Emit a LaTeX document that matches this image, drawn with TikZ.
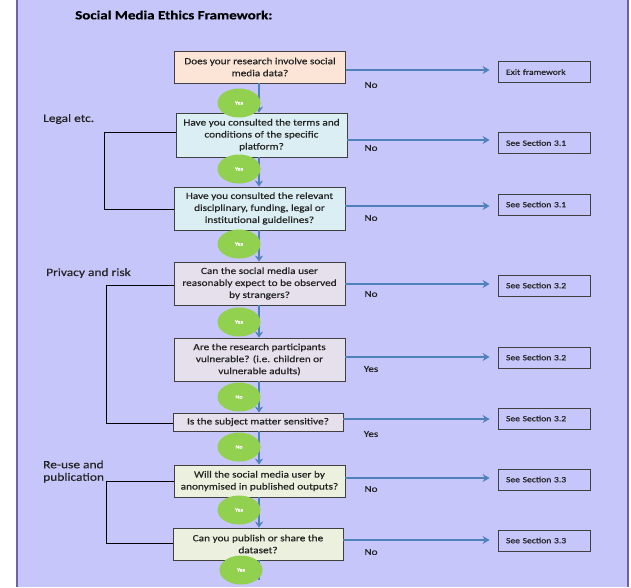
\documentclass[tikz,border=0pt]{standalone}
\usepackage{fontspec}
\setmainfont{Carlito}[FakeStretch=1.2, FakeBold=0.4]
\usetikzlibrary{arrows.meta,shapes.geometric}
\definecolor{bgcol}{RGB}{199,198,250}
\definecolor{bordercol}{RGB}{112,96,168}
\definecolor{boxline}{RGB}{64,64,64}
\definecolor{peach}{RGB}{252,229,214}
\definecolor{lblue}{RGB}{219,238,243}
\definecolor{lgray}{RGB}{229,224,236}
\definecolor{lgreen}{RGB}{235,241,222}
\definecolor{ansgreen}{RGB}{146,208,80}
\definecolor{arrblue}{RGB}{79,129,189}
\definecolor{txt}{RGB}{35,35,35}
\begin{document}
\begin{tikzpicture}[x=1pt,y=-1pt,
  q/.style={draw=boxline, line width=0.8pt, minimum width=171pt, align=center,
    font=\fontsize{9.4}{12}\selectfont, text=txt, inner sep=1pt},
  sec/.style={draw=boxline, line width=0.8pt, minimum width=92pt, minimum height=21pt,
    text width=76pt, inner xsep=8pt, inner ysep=0pt, align=left,
    font=\fontsize{8}{9}\selectfont, text=txt},
  ans/.style={ellipse, fill=ansgreen, minimum width=43pt, minimum height=29pt, inner sep=0pt,
    font=\fontsize{5}{5}\selectfont\bfseries, text=white},
  harr/.style={draw=arrblue, line width=2pt, -{Stealth[length=7pt,width=8pt]}, shorten >=8pt},
  varr/.style={draw=arrblue, line width=2pt, -{Stealth[length=6pt,width=8pt]}},
  lab/.style={font=\fontsize{9.2}{10}\selectfont, text=txt},
  grp/.style={font=\fontsize{11.2}{12.5}\selectfont, text=txt, align=left, inner sep=0pt},
  brk/.style={draw=black, line width=0.8pt}
]
\useasboundingbox (0,0) rectangle (631,587);
\fill[bgcol] (17,0) rectangle (628,587);
\draw[bordercol, line width=1.5pt] (17,0) -- (17,587) (628,0) -- (628,587);

\node[anchor=west, font=\fontsize{12.5}{14}\selectfont\bfseries, text=black, inner sep=0pt] (title) at (75,15) {Social Media Ethics Framework:};

% question boxes
\node[q, fill=peach, minimum height=32pt] (b1) at (260,67) {Does your research involve social\\media data?};
\node[q, fill=lblue, minimum height=44pt] (b2) at (261.5,135) {Have you consulted the terms and\\conditions of the specific\\platform?};
\node[q, fill=lblue, minimum height=43pt] (b3) at (259.5,208.5) {Have you consulted the relevant\\disciplinary, funding, legal or\\institutional guidelines?};
\node[q, fill=lgray, minimum height=43pt] (b4) at (259.5,283.5) {Can the social media user\\reasonably expect to be observed\\by strangers?};
\node[q, fill=lgray, minimum height=43pt] (b5) at (259.5,359.5) {Are the research participants\\vulnerable? (i.e. children or\\vulnerable adults)};
\node[q, fill=lgray, minimum height=18pt, minimum width=170pt] (b6) at (258,422) {Is the subject matter sensitive?};
\node[q, fill=lgreen, minimum height=32pt] (b7) at (259.5,481) {Will the social media user by\\anonymised in published outputs?};
\node[q, fill=lgreen, minimum height=32pt, minimum width=170pt] (b8) at (258,544) {Can you publish or share the\\dataset?};

% section boxes
\node[sec] (s1) at (544,72) {Exit framework};
\node[sec] (s2) at (544,143) {See Section 3.1};
\node[sec] (s3) at (544,204.5) {See Section 3.1};
\node[sec] (s4) at (544,285.5) {See Section 3.2};
\node[sec] (s5) at (544,357.5) {See Section 3.2};
\node[sec] (s6) at (544,418.5) {See Section 3.2};
\node[sec] (s7) at (544,479.5) {See Section 3.3};
\node[sec] (s8) at (544,540.5) {See Section 3.3};

% horizontal arrows
\coordinate (h1) at (0,70);
\coordinate (h2) at (0,140);
\coordinate (h3) at (0,206);
\coordinate (h4) at (0,284);
\coordinate (h5) at (0,357);
\coordinate (h6) at (0,419);
\coordinate (h7) at (0,478);
\coordinate (h8) at (0,540);
\draw[harr] (b1.east |- h1) -- (s1.west |- h1);
\draw[harr] (b2.east |- h2) -- (s2.west |- h2);
\draw[harr] (b3.east |- h3) -- (s3.west |- h3);
\draw[harr] (b4.east |- h4) -- (s4.west |- h4);
\draw[harr] (b5.east |- h5) -- (s5.west |- h5);
\draw[harr] (b6.east |- h6) -- (s6.west |- h6);
\draw[harr] (b7.east |- h7) -- (s7.west |- h7);
\draw[harr] (b8.east |- h8) -- (s8.west |- h8);

% answer labels
\node[lab] (l1) at (371,85) {No};
\node[lab] (l2) at (371,148) {No};
\node[lab] (l3) at (371,218) {No};
\node[lab] (l4) at (371,294) {No};
\node[lab] (l5) at (371,369) {Yes};
\node[lab] (l6) at (371,434) {Yes};
\node[lab] (l7) at (371,489) {No};
\node[lab] (l8) at (371,552) {No};

% vertical arrows
\coordinate (vx) at (259,0);
\coordinate (vend) at (259,580);
\draw[varr] (b1.south -| vx) -- (b2.north -| vx);
\draw[varr] (b2.south -| vx) -- (b3.north -| vx);
\draw[varr] (b3.south -| vx) -- (b4.north -| vx);
\draw[varr] (b4.south -| vx) -- (b5.north -| vx);
\draw[varr] (b5.south -| vx) -- (b6.north -| vx);
\draw[varr] (b6.south -| vx) -- (b7.north -| vx);
\draw[varr] (b7.south -| vx) -- (b8.north -| vx);
\draw[draw=arrblue, line width=2pt] (b8.south -| vx) -- (vend);

% answer ellipses
\node[ans] (e1) at (239,103) {Yes};
\node[ans] (e2) at (239,169) {Yes};
\node[ans] (e3) at (239,244) {Yes};
\node[ans] (e4) at (239,322) {Yes};
\node[ans] (e5) at (239,397) {No};
\node[ans] (e6) at (239,447) {No};
\node[ans] (e7) at (239,510) {Yes};
\node[ans] (e8) at (241,570) {Yes};

% group labels and brackets
\node[grp, anchor=west] (g1) at (43,119) {Legal etc.};
\node[grp, anchor=west] (g2) at (46,273) {Privacy and risk};
\node[grp, anchor=west] (g3) at (43,471.5) {Re-use and\\publication};

\coordinate (k1a) at (104,132);
\coordinate (k1b) at (104,209);
\draw[brk] (b2.west |- k1a) -- (k1a) -- (k1b) -- (b3.west |- k1b);
\coordinate (k2a) at (106,285);
\coordinate (k2b) at (106,423);
\draw[brk] (b4.west |- k2a) -- (k2a) -- (k2b) -- (b6.west |- k2b);
\coordinate (k3a) at (106,481);
\coordinate (k3b) at (106,543);
\draw[brk] (b7.west |- k3a) -- (k3a) -- (k3b) -- (b8.west |- k3b);
\end{tikzpicture}
\end{document}
